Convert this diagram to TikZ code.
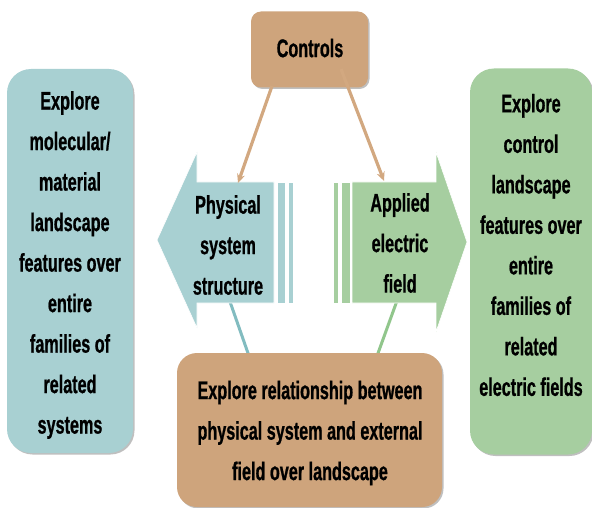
\documentclass[tikz,border=0pt]{standalone}
\usepackage{fontspec}
\setmainfont{Liberation Sans}[FakeStretch=0.635,FakeBold=0.8]
\usetikzlibrary{arrows.meta,shadows}
\definecolor{bluebox}{RGB}{168,208,210}
\definecolor{greenbox}{RGB}{166,206,160}
\definecolor{tanbox}{RGB}{206,164,124}
\definecolor{tanline}{RGB}{210,168,128}
\definecolor{blueline}{RGB}{130,188,192}
\definecolor{greenline}{RGB}{145,198,140}
\tikzset{
  lab/.style={font=\bfseries\fontsize{25.5}{40.5}\selectfont, align=center, text=black, inner sep=0pt},
  boxshadow/.style={drop shadow={shadow xshift=1.5pt, shadow yshift=-1.5pt, opacity=0.25, fill=black}},
  sidebox/.style={rounded corners=24pt, boxshadow, draw=none, inner sep=0pt},
  tanconn/.style={draw=tanline, line width=3.2pt, -{Stealth[length=9pt,width=8pt]}},
  stripe/.style={draw=white, line width=0.6pt}
}
\begin{document}
\begin{tikzpicture}[x=1pt,y=-1pt]
\useasboundingbox (0,0) rectangle (592,508);
% side boxes
\node[sidebox, fill=bluebox, minimum width=126pt, minimum height=384pt] (leftbox) at (70,261) {};
\node[sidebox, fill=greenbox, minimum width=122pt, minimum height=386pt] (rightbox) at (531,261.5) {};
\node[lab] (lefttext) at (70,265) {Explore\\molecular/\\material\\landscape\\features over\\entire\\families of\\related\\systems};
\node[lab] (righttext) at (531,245) {Explore\\control\\landscape\\features over\\entire\\families of\\related\\electric fields};
% connector coordinates
\coordinate (bl1) at (228,296);
\coordinate (bl2) at (249,356);
\coordinate (gl1) at (398,298);
\coordinate (gl2) at (377,356);
\draw[blueline, line width=3pt] (bl1) -- (bl2);
\draw[greenline, line width=3pt] (gl1) -- (gl2);
% left arrow
\fill[bluebox, stripe] (157,240) -- (197,152) -- (197,182) -- (274,182) -- (274,303) -- (197,303) -- (197,328) -- cycle;
\fill[bluebox, stripe] (277,182) rectangle (285,303);
\fill[bluebox, stripe] (288,182) rectangle (293,303);
\node[lab] (phys) at (228,245) {Physical\\system\\structure};
% right arrow
\fill[greenbox, stripe] (333,182) rectangle (338,303);
\fill[greenbox, stripe] (341,182) rectangle (350,303);
\fill[greenbox, stripe] (352,182) -- (436,182) -- (436,152) -- (467,242) -- (436,332) -- (436,303) -- (352,303) -- cycle;
\node[lab] (appl) at (400,243) {Applied\\electric\\field};
% controls
\node[rounded corners=10pt, fill=tanbox, boxshadow, minimum width=117pt, minimum height=76pt, inner sep=0pt] (controls) at (309.5,49.5) {};
\node[lab] (ctext) at (310,48) {Controls};
% tan connectors
\coordinate (c1) at (272,86);
\coordinate (t1) at (238,183);
\coordinate (c2) at (341,69);
\coordinate (t2) at (384,181);
\draw[tanconn] (c1) -- (t1);
\draw[tanconn] (c2) -- (t2);
% bottom box
\node[rounded corners=20pt, fill=tanbox, boxshadow, minimum width=265pt, minimum height=154pt, inner sep=0pt] (bottombox) at (309.5,430) {};
\node[lab] (btext) at (310,433) {Explore relationship between\\physical system and external\\field over landscape};
\end{tikzpicture}
\end{document}
